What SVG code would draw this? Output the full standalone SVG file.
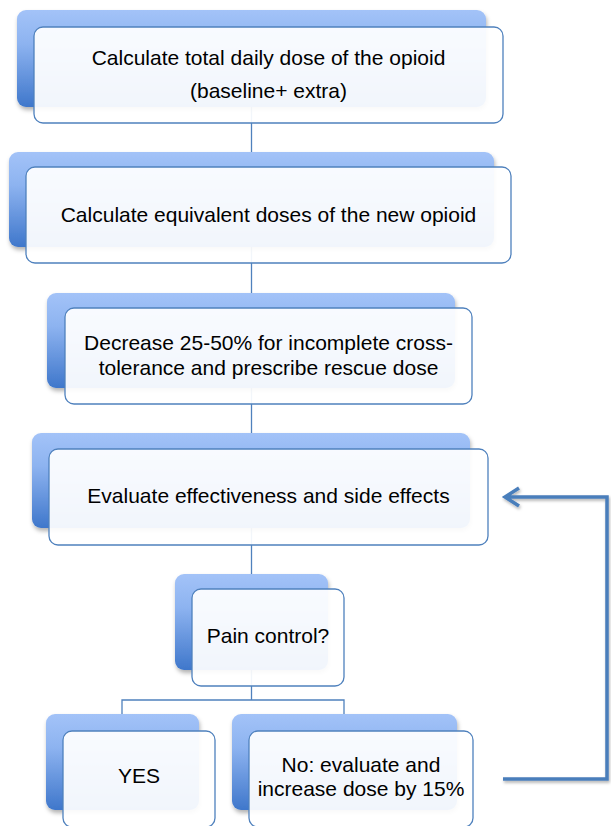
<svg xmlns="http://www.w3.org/2000/svg" width="611" height="826" viewBox="0 0 611 826">
<defs>
<linearGradient id="g" x1="0" y1="0" x2="0" y2="1">
<stop offset="0" stop-color="#a3c3f8"/>
<stop offset="0.35" stop-color="#8db3f0"/>
<stop offset="1" stop-color="#3f77cb"/>
</linearGradient>
<filter id="sh" x="-10%" y="-10%" width="125%" height="130%">
<feDropShadow dx="1" dy="3" stdDeviation="2" flood-color="#000" flood-opacity="0.3"/>
</filter>
<filter id="ash" x="-10%" y="-10%" width="125%" height="130%">
<feDropShadow dx="1" dy="2" stdDeviation="1.5" flood-color="#000" flood-opacity="0.3"/>
</filter>
</defs>
<style>
.back{fill:url(#g);filter:url(#sh);}
.front{fill:#ffffff;fill-opacity:0.93;stroke:#4f81bd;stroke-width:1.3;}
.conn{fill:none;stroke:#4f81bd;stroke-width:1.3;}
.loop{fill:none;stroke:#4a7ebb;stroke-width:3.5;filter:url(#ash);}
text{font-family:"Liberation Sans",Arial,sans-serif;font-size:21px;fill:#000;text-anchor:middle;}
</style>
<g id="connectors">
<path class="conn" d="M251.5 107V152M251.5 247V293M251.5 388V433M251.5 528V574M251.5 670V700M122 714V700H344V714"/>
<path class="loop" d="M503 779H607V497H505M519 488L505 497L519 506"/>
</g>
<g id="n1">
<rect class="back" x="17" y="10" width="469" height="97" rx="9"/>
<rect class="front" x="34" y="27" width="469" height="96" rx="9"/>
<text x="268.5" y="65">Calculate total daily dose of the opioid</text>
<text x="268.5" y="98">(baseline+ extra)</text>
</g>
<g id="n2">
<rect class="back" x="9" y="152" width="485" height="95" rx="9"/>
<rect class="front" x="26" y="167" width="485" height="96" rx="9"/>
<text x="268.5" y="222">Calculate equivalent doses of the new opioid</text>
</g>
<g id="n3">
<rect class="back" x="47" y="293" width="408" height="95" rx="9"/>
<rect class="front" x="65" y="308" width="407" height="96" rx="9"/>
<text x="268.5" y="350">Decrease 25-50% for incomplete cross-</text>
<text x="268.5" y="375">tolerance and prescribe rescue dose</text>
</g>
<g id="n4">
<rect class="back" x="32" y="433" width="438" height="95" rx="9"/>
<rect class="front" x="49" y="449" width="439" height="96" rx="9"/>
<text x="268.5" y="503">Evaluate effectiveness and side effects</text>
</g>
<g id="n5">
<rect class="back" x="175" y="574" width="153" height="96" rx="9"/>
<rect class="front" x="192" y="589" width="152" height="97" rx="9"/>
<text x="268" y="643">Pain control?</text>
</g>
<g id="n6">
<rect class="back" x="46" y="714" width="153" height="96" rx="9"/>
<rect class="front" x="63" y="731" width="152" height="96" rx="9"/>
<text x="139" y="783">YES</text>
</g>
<g id="n7">
<rect class="back" x="232" y="714" width="225" height="96" rx="9"/>
<rect class="front" x="249" y="731" width="224" height="96" rx="9"/>
<text x="361" y="772">No: evaluate and</text>
<text x="361" y="796">increase dose by 15%</text>
</g>
</svg>
